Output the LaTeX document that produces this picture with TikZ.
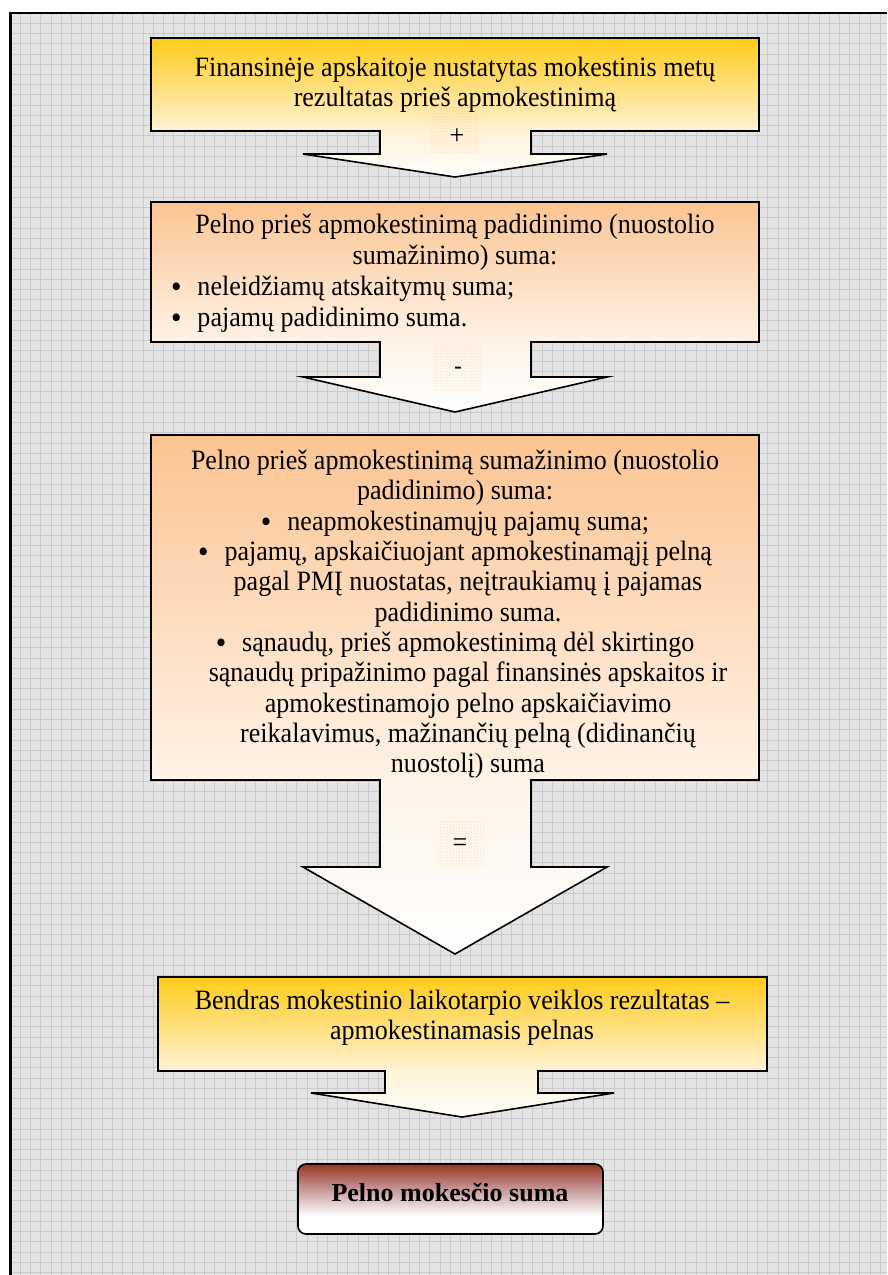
\documentclass[tikz,border=0pt]{standalone}
\usepackage{fontspec}
\usepackage{graphicx}
\setmainfont{Liberation Serif}
\newfontfamily\bodyfont{Liberation Serif}[FakeStretch=0.93]
\newfontfamily\symfont{Liberation Sans}
\usetikzlibrary{patterns}

\definecolor{sheet}{RGB}{228,228,228}
\definecolor{gridcol}{RGB}{202,202,202}
\definecolor{goldtop}{RGB}{255,203,26}
\definecolor{goldlow}{RGB}{255,242,214}
\definecolor{peachtop}{RGB}{251,196,146}
\definecolor{peachlow}{RGB}{255,243,232}
\definecolor{rusttop}{RGB}{152,52,32}
\definecolor{rustmid}{RGB}{196,146,146}
\definecolor{dotcol}{RGB}{250,190,130}

% vertical fades: the path bounding box maps onto 25bp..75bp
\pgfdeclareverticalshading{goldfade}{100bp}{color(0bp)=(white); color(25bp)=(white); color(41.5bp)=(goldlow); color(75bp)=(goldtop); color(100bp)=(goldtop)}
\pgfdeclareverticalshading{peachfade}{100bp}{color(0bp)=(white); color(25bp)=(white); color(41.5bp)=(peachlow); color(75bp)=(peachtop); color(100bp)=(peachtop)}
\pgfdeclareverticalshading{rustfade}{100bp}{color(0bp)=(white); color(25bp)=(white); color(38bp)=(white); color(58bp)=(rustmid); color(75bp)=(rusttop); color(100bp)=(rusttop)}

% list bullet
\newcommand{\blt}{\raisebox{-2pt}{\scalebox{1.15}{•}}}

\tikzset{
  gridline/.style={draw=gridcol, line width=0.9pt},
  callout/.style={draw=black, line width=1.6pt, line join=miter},
  txt/.style={font=\bodyfont\fontsize{28}{30}\selectfont, align=flush center, inner sep=0pt},
  signbox/.style={pattern=dots, pattern color=dotcol},
  sign/.style={font=\bodyfont\fontsize{28}{30}\selectfont, inner sep=0pt},
}

\begin{document}
\begin{tikzpicture}[x=1pt,y=-1pt]
\useasboundingbox (0,0) rectangle (887,1275);

% sheet with grid
\fill[white] (0,0) rectangle (887,1275);
\fill[sheet] (10,13) rectangle (887,1275);
\foreach \i in {0,...,85} \draw[gridline] ({10+\i*10.24},13) -- ({10+\i*10.24},1275);
\foreach \j in {0,...,123} \draw[gridline] (10,{13+\j*10.24}) -- (887,{13+\j*10.24});
\draw[line width=2pt] (887,13) -- (10,13);
\draw[line width=3pt] (10,1275) -- (10,12);

% callout 1
\path[callout, shading=goldfade]
  (151,38) -- (759,38) -- (759,131) -- (531,131) -- (531,154) -- (607,154)
  -- (455,177) -- (303,154) -- (380,154) -- (380,131) -- (151,131) -- cycle;
\node[txt, anchor=north] (t1) at (455,57)
  {Finansinėje apskaitoje nustatytas mokestinis metų\\rezultatas prieš apmokestinimą};
\fill[signbox] (431,107) rectangle (478,153);
\node[sign] (s1) at (457,137) {+};

% callout 2
\path[callout, shading=peachfade]
  (151,202) -- (759,202) -- (759,342) -- (531,342) -- (531,377) -- (607,377)
  -- (455,412) -- (303,377) -- (380,377) -- (380,342) -- (151,342) -- cycle;
\node[txt, anchor=north, text width=600pt, font=\bodyfont\fontsize{28}{31}\selectfont] (t2) at (455,214)
  {Pelno prieš apmokestinimą padidinimo (nuostolio\\
   sumažinimo) suma:\\
   \makebox[600pt][l]{\hspace*{16pt}\blt\hspace{16pt}neleidžiamų atskaitymų suma;}\\
   \makebox[600pt][l]{\hspace*{16pt}\blt\hspace{16pt}pajamų padidinimo suma.}};
\fill[signbox] (434,345) rectangle (482,390);
\node[sign, font=\symfont\fontsize{24}{28}\selectfont] (s2) at (458,371) {-};

% callout 3
\path[callout, shading=peachfade]
  (151,435) -- (759,435) -- (759,780) -- (531,780) -- (531,867) -- (607,867)
  -- (455,954) -- (303,867) -- (380,867) -- (380,780) -- (151,780) -- cycle;
\node[txt, anchor=north, text width=600pt, font=\bodyfont\fontsize{28}{30.3}\selectfont] (t3) at (455,450)
  {Pelno prieš apmokestinimą sumažinimo (nuostolio\\
   padidinimo) suma:\\
   \blt\hspace{16pt}neapmokestinamųjų pajamų suma;\\
   \blt\hspace{16pt}pajamų, apskaičiuojant apmokestinamąjį pelną\\
   \hspace*{26pt}pagal PMĮ nuostatas, neįtraukiamų į pajamas\\
   \hspace*{26pt}padidinimo suma.\\
   \blt\hspace{16pt}sąnaudų, prieš apmokestinimą dėl skirtingo\\
   \hspace*{26pt}sąnaudų pripažinimo pagal finansinės apskaitos ir\\
   \hspace*{26pt}apmokestinamojo pelno apskaičiavimo\\
   \hspace*{26pt}reikalavimus, mažinančių pelną (didinančių\\
   \hspace*{26pt}nuostolį) suma};
\fill[signbox] (438,820) rectangle (484,866);
\node[sign] (s3) at (460,845) {=};

% callout 4
\path[callout, shading=goldfade]
  (158,977) -- (767,977) -- (767,1071) -- (538,1071) -- (538,1093) -- (614,1093)
  -- (462,1117) -- (311,1093) -- (385,1093) -- (385,1071) -- (158,1071) -- cycle;
\node[txt, anchor=north] (t4) at (462,990)
  {Bendras mokestinio laikotarpio veiklos rezultatas –\\apmokestinamasis pelnas};

% result box
\node[draw=black, line width=1.6pt, rounded corners=8pt, shading=rustfade,
      minimum width=305pt, minimum height=70pt, inner sep=0pt] (res) at (450.5,1199) {};
\node[font=\bfseries\fontsize{26}{30}\selectfont, inner sep=0pt, anchor=base] (rtxt) at (450,1201)
  {Pelno mokesčio suma};
\end{tikzpicture}
\end{document}
